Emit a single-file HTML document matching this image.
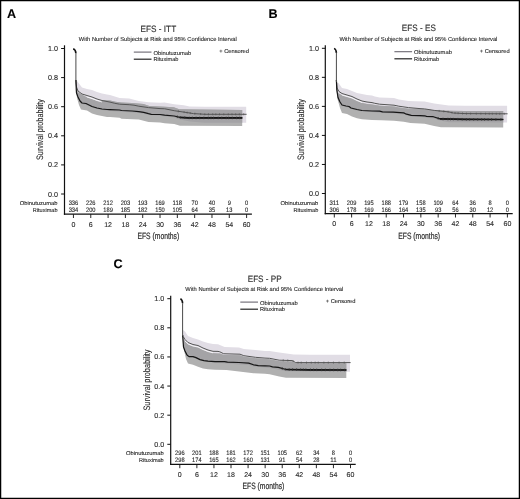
<!DOCTYPE html>
<html><head><meta charset="utf-8"><style>
html,body{margin:0;padding:0;background:#fff;}
body{width:520px;height:499px;overflow:hidden;}
svg{display:block;font-family:"Liberation Sans", sans-serif;}
text{-webkit-font-smoothing:antialiased;text-rendering:geometricPrecision;stroke:#2a2a2a;stroke-width:0.12px;}
</style></head><body>
<svg width="520" height="499" viewBox="0 0 520 499" style="will-change:transform">
<rect x="0" y="0" width="520" height="499" fill="#fff"/>
<text x="7.00" y="17.80" font-size="12.6" font-weight="bold" fill="#000">A</text>
<text x="140.55" y="31.80" font-size="9.2" textLength="35.60" lengthAdjust="spacingAndGlyphs" fill="#2a2a2a">EFS - ITT</text>
<text x="78.80" y="40.90" font-size="5.8" textLength="158.00" lengthAdjust="spacingAndGlyphs" fill="#2a2a2a">With Number of Subjects at Risk and 95% Confidence Interval</text>
<line x1="133.80" y1="52.10" x2="151.50" y2="52.10" stroke="#6a6670" stroke-width="1.1"/>
<line x1="133.80" y1="59.20" x2="151.50" y2="59.20" stroke="#222" stroke-width="1.2"/>
<text x="153.50" y="54.60" font-size="5.7" textLength="37.80" lengthAdjust="spacingAndGlyphs" fill="#2a2a2a">Obinutuzumab</text>
<text x="153.50" y="61.30" font-size="5.7" textLength="25.00" lengthAdjust="spacingAndGlyphs" fill="#2a2a2a">Rituximab</text>
<text x="219.20" y="53.30" font-size="5.7" textLength="29.80" lengthAdjust="spacingAndGlyphs" fill="#2a2a2a">+ Censored</text>
<clipPath id="clipA"><path d="M76.30,86.00 L78.00,92.20 L82.00,94.80 L87.00,97.60 L92.00,99.20 L97.00,101.00 L100.00,101.80 L104.00,100.20 L110.00,100.60 L115.50,101.80 L121.30,102.50 L132.00,102.90 L143.50,104.10 L149.30,106.00 L160.00,106.50 L173.80,107.20 L179.20,109.20 L200.00,109.60 L242.20,109.90 L242.20,125.90 L180.00,125.80 L174.20,124.10 L164.60,123.20 L160.00,122.50 L148.50,122.00 L138.80,119.60 L121.50,118.70 L119.60,117.70 L110.00,116.90 L107.00,117.00 L102.00,116.00 L97.00,115.00 L92.00,113.50 L87.00,110.50 L81.00,109.50 L79.00,105.00 L77.00,98.00 L76.30,92.00Z"/></clipPath>
<path d="M76.30,79.50 L77.00,81.00 L82.00,87.50 L87.00,89.00 L92.00,90.00 L97.00,92.00 L102.00,93.50 L107.00,94.50 L110.00,95.10 L114.80,96.50 L119.60,98.00 L129.20,98.50 L138.80,100.90 L148.50,102.30 L160.00,102.80 L164.60,102.50 L174.20,104.20 L183.80,105.20 L189.60,106.40 L205.00,106.70 L246.20,106.70 L246.20,122.80 L205.00,122.80 L190.00,121.50 L180.00,119.50 L174.20,117.50 L160.00,115.80 L148.50,114.80 L138.80,112.90 L121.50,111.80 L110.00,111.00 L102.00,110.00 L97.00,109.00 L92.00,107.50 L88.00,105.50 L82.00,104.00 L80.00,102.00 L78.00,98.00 L76.30,92.00Z" fill="#e1dde5"/>
<path d="M76.30,86.00 L78.00,92.20 L82.00,94.80 L87.00,97.60 L92.00,99.20 L97.00,101.00 L100.00,101.80 L104.00,100.20 L110.00,100.60 L115.50,101.80 L121.30,102.50 L132.00,102.90 L143.50,104.10 L149.30,106.00 L160.00,106.50 L173.80,107.20 L179.20,109.20 L200.00,109.60 L242.20,109.90 L242.20,125.90 L180.00,125.80 L174.20,124.10 L164.60,123.20 L160.00,122.50 L148.50,122.00 L138.80,119.60 L121.50,118.70 L119.60,117.70 L110.00,116.90 L107.00,117.00 L102.00,116.00 L97.00,115.00 L92.00,113.50 L87.00,110.50 L81.00,109.50 L79.00,105.00 L77.00,98.00 L76.30,92.00Z" fill="#b0b0b0"/>
<path d="M76.30,79.50 L77.00,81.00 L82.00,87.50 L87.00,89.00 L92.00,90.00 L97.00,92.00 L102.00,93.50 L107.00,94.50 L110.00,95.10 L114.80,96.50 L119.60,98.00 L129.20,98.50 L138.80,100.90 L148.50,102.30 L160.00,102.80 L164.60,102.50 L174.20,104.20 L183.80,105.20 L189.60,106.40 L205.00,106.70 L246.20,106.70 L246.20,122.80 L205.00,122.80 L190.00,121.50 L180.00,119.50 L174.20,117.50 L160.00,115.80 L148.50,114.80 L138.80,112.90 L121.50,111.80 L110.00,111.00 L102.00,110.00 L97.00,109.00 L92.00,107.50 L88.00,105.50 L82.00,104.00 L80.00,102.00 L78.00,98.00 L76.30,92.00Z" fill="#a4a3a6" clip-path="url(#clipA)"/>
<path d="M87.00,97.00 L92.00,98.50 L97.00,100.50 L102.00,102.00" fill="none" stroke="#fbfafc" stroke-opacity="0.85" stroke-width="0.9" stroke-linejoin="round"/>
<path d="M75.90,80.00 L76.20,84.00 L76.50,87.00 L78.00,91.00 L82.00,94.00 L87.00,95.50 L92.00,97.00 L97.00,99.00 L102.00,100.50 L107.00,101.50 L110.00,102.10 L114.80,103.30 L119.60,104.20 L129.20,104.70 L134.00,105.20 L138.80,106.20 L148.50,107.60 L160.00,108.60 L164.60,108.75 L174.20,110.70 L183.80,112.10 L193.50,113.60 L205.00,114.30 L246.60,114.30" fill="none" stroke="#555" stroke-width="1.0" stroke-linejoin="round"/>
<path d="M75.90,80.00 L76.30,90.00 L76.50,93.00 L78.00,97.00 L80.00,101.00 L82.00,103.00 L86.00,103.50 L88.00,104.50 L92.00,106.50 L97.00,108.00 L102.00,109.00 L107.00,109.50 L110.00,109.60 L119.60,110.00 L121.50,110.50 L132.10,111.00 L138.80,111.70 L143.70,112.40 L148.50,113.70 L151.30,114.30 L160.00,114.50 L164.60,115.20 L174.20,116.00 L180.00,117.40 L188.70,117.90 L205.00,117.90 L242.30,117.90" fill="none" stroke="#151515" stroke-width="1.2" stroke-linejoin="round"/>
<path d="M73.20,48.70 Q75.70,49.70 75.90,53.20" fill="none" stroke="#111" stroke-width="1.6"/>
<line x1="75.90" y1="53.20" x2="75.90" y2="82.00" stroke="#4a4a4a" stroke-width="1.0"/>
<path d="M180.00,117.40 L188.70,117.90 L205.00,117.90 L242.30,117.90" fill="none" stroke="#151515" stroke-width="1.7" stroke-linejoin="round"/>
<line x1="177.34" y1="115.46" x2="177.34" y2="118.06" stroke="#333" stroke-width="0.8"/>
<line x1="180.18" y1="116.11" x2="180.18" y2="118.71" stroke="#333" stroke-width="0.8"/>
<line x1="184.79" y1="116.38" x2="184.79" y2="118.98" stroke="#333" stroke-width="0.8"/>
<line x1="189.20" y1="116.60" x2="189.20" y2="119.20" stroke="#333" stroke-width="0.8"/>
<line x1="192.34" y1="116.60" x2="192.34" y2="119.20" stroke="#333" stroke-width="0.8"/>
<line x1="196.08" y1="116.60" x2="196.08" y2="119.20" stroke="#333" stroke-width="0.8"/>
<line x1="199.70" y1="116.60" x2="199.70" y2="119.20" stroke="#333" stroke-width="0.8"/>
<line x1="203.83" y1="116.60" x2="203.83" y2="119.20" stroke="#333" stroke-width="0.8"/>
<line x1="208.30" y1="116.60" x2="208.30" y2="119.20" stroke="#333" stroke-width="0.8"/>
<line x1="211.04" y1="116.60" x2="211.04" y2="119.20" stroke="#333" stroke-width="0.8"/>
<line x1="213.61" y1="116.60" x2="213.61" y2="119.20" stroke="#333" stroke-width="0.8"/>
<line x1="218.20" y1="116.60" x2="218.20" y2="119.20" stroke="#333" stroke-width="0.8"/>
<line x1="221.78" y1="116.60" x2="221.78" y2="119.20" stroke="#333" stroke-width="0.8"/>
<line x1="226.19" y1="116.60" x2="226.19" y2="119.20" stroke="#333" stroke-width="0.8"/>
<line x1="228.69" y1="116.60" x2="228.69" y2="119.20" stroke="#333" stroke-width="0.8"/>
<line x1="232.31" y1="116.60" x2="232.31" y2="119.20" stroke="#333" stroke-width="0.8"/>
<line x1="236.61" y1="116.60" x2="236.61" y2="119.20" stroke="#333" stroke-width="0.8"/>
<line x1="239.68" y1="116.60" x2="239.68" y2="119.20" stroke="#333" stroke-width="0.8"/>
<line x1="178.34" y1="110.30" x2="178.34" y2="112.30" stroke="#555" stroke-width="0.7"/>
<line x1="184.04" y1="111.14" x2="184.04" y2="113.14" stroke="#555" stroke-width="0.7"/>
<line x1="187.14" y1="111.62" x2="187.14" y2="113.62" stroke="#555" stroke-width="0.7"/>
<line x1="190.21" y1="112.09" x2="190.21" y2="114.09" stroke="#555" stroke-width="0.7"/>
<line x1="194.84" y1="112.68" x2="194.84" y2="114.68" stroke="#555" stroke-width="0.7"/>
<line x1="200.65" y1="113.04" x2="200.65" y2="115.04" stroke="#555" stroke-width="0.7"/>
<line x1="204.80" y1="113.29" x2="204.80" y2="115.29" stroke="#555" stroke-width="0.7"/>
<line x1="208.45" y1="113.30" x2="208.45" y2="115.30" stroke="#555" stroke-width="0.7"/>
<line x1="212.71" y1="113.30" x2="212.71" y2="115.30" stroke="#555" stroke-width="0.7"/>
<line x1="215.80" y1="113.30" x2="215.80" y2="115.30" stroke="#555" stroke-width="0.7"/>
<line x1="219.47" y1="113.30" x2="219.47" y2="115.30" stroke="#555" stroke-width="0.7"/>
<line x1="223.78" y1="113.30" x2="223.78" y2="115.30" stroke="#555" stroke-width="0.7"/>
<line x1="228.27" y1="113.30" x2="228.27" y2="115.30" stroke="#555" stroke-width="0.7"/>
<line x1="231.97" y1="113.30" x2="231.97" y2="115.30" stroke="#555" stroke-width="0.7"/>
<line x1="235.66" y1="113.30" x2="235.66" y2="115.30" stroke="#555" stroke-width="0.7"/>
<line x1="239.32" y1="113.30" x2="239.32" y2="115.30" stroke="#555" stroke-width="0.7"/>
<line x1="243.69" y1="113.30" x2="243.69" y2="115.30" stroke="#555" stroke-width="0.7"/>
<line x1="64.5" y1="45.3" x2="64.5" y2="214.79999999999998" stroke="#111" stroke-width="1.2"/>
<line x1="63.9" y1="214.2" x2="251.9" y2="214.2" stroke="#111" stroke-width="1.2"/>
<line x1="61.10" y1="48.50" x2="64.5" y2="48.50" stroke="#111" stroke-width="1"/>
<text x="58.10" y="51.05" font-size="7.2" text-anchor="end" fill="#2a2a2a">1.0</text>
<line x1="61.10" y1="77.60" x2="64.5" y2="77.60" stroke="#111" stroke-width="1"/>
<text x="58.10" y="80.15" font-size="7.2" text-anchor="end" fill="#2a2a2a">0.8</text>
<line x1="61.10" y1="106.70" x2="64.5" y2="106.70" stroke="#111" stroke-width="1"/>
<text x="58.10" y="109.25" font-size="7.2" text-anchor="end" fill="#2a2a2a">0.6</text>
<line x1="61.10" y1="135.80" x2="64.5" y2="135.80" stroke="#111" stroke-width="1"/>
<text x="58.10" y="138.35" font-size="7.2" text-anchor="end" fill="#2a2a2a">0.4</text>
<line x1="61.10" y1="164.90" x2="64.5" y2="164.90" stroke="#111" stroke-width="1"/>
<text x="58.10" y="167.45" font-size="7.2" text-anchor="end" fill="#2a2a2a">0.2</text>
<line x1="61.10" y1="194.00" x2="64.5" y2="194.00" stroke="#111" stroke-width="1"/>
<text x="58.10" y="196.55" font-size="7.2" text-anchor="end" fill="#2a2a2a">0.0</text>
<line x1="73.45" y1="214.2" x2="73.45" y2="218.00" stroke="#111" stroke-width="0.9"/>
<text x="73.45" y="226.70" font-size="7.0" text-anchor="middle" fill="#2a2a2a">0</text>
<line x1="90.77" y1="214.2" x2="90.77" y2="218.00" stroke="#111" stroke-width="0.9"/>
<text x="90.77" y="226.70" font-size="7.0" text-anchor="middle" fill="#2a2a2a">6</text>
<line x1="108.08" y1="214.2" x2="108.08" y2="218.00" stroke="#111" stroke-width="0.9"/>
<text x="108.08" y="226.70" font-size="7.0" text-anchor="middle" fill="#2a2a2a">12</text>
<line x1="125.40" y1="214.2" x2="125.40" y2="218.00" stroke="#111" stroke-width="0.9"/>
<text x="125.40" y="226.70" font-size="7.0" text-anchor="middle" fill="#2a2a2a">18</text>
<line x1="142.71" y1="214.2" x2="142.71" y2="218.00" stroke="#111" stroke-width="0.9"/>
<text x="142.71" y="226.70" font-size="7.0" text-anchor="middle" fill="#2a2a2a">24</text>
<line x1="160.03" y1="214.2" x2="160.03" y2="218.00" stroke="#111" stroke-width="0.9"/>
<text x="160.03" y="226.70" font-size="7.0" text-anchor="middle" fill="#2a2a2a">30</text>
<line x1="177.34" y1="214.2" x2="177.34" y2="218.00" stroke="#111" stroke-width="0.9"/>
<text x="177.34" y="226.70" font-size="7.0" text-anchor="middle" fill="#2a2a2a">36</text>
<line x1="194.66" y1="214.2" x2="194.66" y2="218.00" stroke="#111" stroke-width="0.9"/>
<text x="194.66" y="226.70" font-size="7.0" text-anchor="middle" fill="#2a2a2a">42</text>
<line x1="211.97" y1="214.2" x2="211.97" y2="218.00" stroke="#111" stroke-width="0.9"/>
<text x="211.97" y="226.70" font-size="7.0" text-anchor="middle" fill="#2a2a2a">48</text>
<line x1="229.29" y1="214.2" x2="229.29" y2="218.00" stroke="#111" stroke-width="0.9"/>
<text x="229.29" y="226.70" font-size="7.0" text-anchor="middle" fill="#2a2a2a">54</text>
<line x1="246.60" y1="214.2" x2="246.60" y2="218.00" stroke="#111" stroke-width="0.9"/>
<text x="246.60" y="226.70" font-size="7.0" text-anchor="middle" fill="#2a2a2a">60</text>
<text x="137.43" y="239.00" font-size="9.2" textLength="41.80" lengthAdjust="spacingAndGlyphs" fill="#2a2a2a" style="stroke-width:0.2px">EFS (months)</text>
<text x="-30.5" y="0" font-size="9.4" textLength="61" lengthAdjust="spacingAndGlyphs" fill="#2a2a2a" style="stroke-width:0.1px" transform="translate(43.30,129.50) rotate(-90)">Survival probability</text>
<text x="19.80" y="204.90" font-size="5.6" textLength="37.70" lengthAdjust="spacingAndGlyphs" fill="#2a2a2a">Obinutuzumab</text>
<text x="32.80" y="211.60" font-size="5.6" textLength="24.70" lengthAdjust="spacingAndGlyphs" fill="#2a2a2a">Rituximab</text>
<text x="68.70" y="204.90" font-size="6.4" textLength="9.51" lengthAdjust="spacingAndGlyphs" fill="#2a2a2a">336</text>
<text x="68.70" y="211.60" font-size="6.4" textLength="9.51" lengthAdjust="spacingAndGlyphs" fill="#2a2a2a">334</text>
<text x="86.01" y="204.90" font-size="6.4" textLength="9.51" lengthAdjust="spacingAndGlyphs" fill="#2a2a2a">226</text>
<text x="86.01" y="211.60" font-size="6.4" textLength="9.51" lengthAdjust="spacingAndGlyphs" fill="#2a2a2a">200</text>
<text x="103.33" y="204.90" font-size="6.4" textLength="9.51" lengthAdjust="spacingAndGlyphs" fill="#2a2a2a">212</text>
<text x="103.33" y="211.60" font-size="6.4" textLength="9.51" lengthAdjust="spacingAndGlyphs" fill="#2a2a2a">189</text>
<text x="120.64" y="204.90" font-size="6.4" textLength="9.51" lengthAdjust="spacingAndGlyphs" fill="#2a2a2a">203</text>
<text x="120.64" y="211.60" font-size="6.4" textLength="9.51" lengthAdjust="spacingAndGlyphs" fill="#2a2a2a">185</text>
<text x="137.96" y="204.90" font-size="6.4" textLength="9.51" lengthAdjust="spacingAndGlyphs" fill="#2a2a2a">193</text>
<text x="137.96" y="211.60" font-size="6.4" textLength="9.51" lengthAdjust="spacingAndGlyphs" fill="#2a2a2a">182</text>
<text x="155.27" y="204.90" font-size="6.4" textLength="9.51" lengthAdjust="spacingAndGlyphs" fill="#2a2a2a">169</text>
<text x="155.27" y="211.60" font-size="6.4" textLength="9.51" lengthAdjust="spacingAndGlyphs" fill="#2a2a2a">150</text>
<text x="172.59" y="204.90" font-size="6.4" textLength="9.51" lengthAdjust="spacingAndGlyphs" fill="#2a2a2a">118</text>
<text x="172.59" y="211.60" font-size="6.4" textLength="9.51" lengthAdjust="spacingAndGlyphs" fill="#2a2a2a">105</text>
<text x="191.49" y="204.90" font-size="6.4" textLength="6.34" lengthAdjust="spacingAndGlyphs" fill="#2a2a2a">70</text>
<text x="191.49" y="211.60" font-size="6.4" textLength="6.34" lengthAdjust="spacingAndGlyphs" fill="#2a2a2a">64</text>
<text x="208.80" y="204.90" font-size="6.4" textLength="6.34" lengthAdjust="spacingAndGlyphs" fill="#2a2a2a">40</text>
<text x="208.80" y="211.60" font-size="6.4" textLength="6.34" lengthAdjust="spacingAndGlyphs" fill="#2a2a2a">35</text>
<text x="227.70" y="204.90" font-size="6.4" textLength="3.17" lengthAdjust="spacingAndGlyphs" fill="#2a2a2a">9</text>
<text x="226.12" y="211.60" font-size="6.4" textLength="6.34" lengthAdjust="spacingAndGlyphs" fill="#2a2a2a">13</text>
<text x="245.02" y="204.90" font-size="6.4" textLength="3.17" lengthAdjust="spacingAndGlyphs" fill="#2a2a2a">0</text>
<text x="245.02" y="211.60" font-size="6.4" textLength="3.17" lengthAdjust="spacingAndGlyphs" fill="#2a2a2a">0</text>
<text x="268.60" y="17.80" font-size="12.6" font-weight="bold" fill="#000">B</text>
<text x="401.85" y="31.40" font-size="9.2" textLength="34.00" lengthAdjust="spacingAndGlyphs" fill="#2a2a2a">EFS - ES</text>
<text x="339.40" y="40.50" font-size="5.8" textLength="158.00" lengthAdjust="spacingAndGlyphs" fill="#2a2a2a">With Number of Subjects at Risk and 95% Confidence Interval</text>
<line x1="394.40" y1="51.70" x2="412.10" y2="51.70" stroke="#6a6670" stroke-width="1.1"/>
<line x1="394.40" y1="58.80" x2="412.10" y2="58.80" stroke="#222" stroke-width="1.2"/>
<text x="414.10" y="54.20" font-size="5.7" textLength="37.80" lengthAdjust="spacingAndGlyphs" fill="#2a2a2a">Obinutuzumab</text>
<text x="414.10" y="60.90" font-size="5.7" textLength="25.00" lengthAdjust="spacingAndGlyphs" fill="#2a2a2a">Rituximab</text>
<text x="479.80" y="52.90" font-size="5.7" textLength="29.80" lengthAdjust="spacingAndGlyphs" fill="#2a2a2a">+ Censored</text>
<clipPath id="clipB"><path d="M336.80,84.00 L338.00,93.00 L342.00,95.50 L347.00,97.00 L352.00,98.50 L357.00,101.00 L362.00,103.00 L367.00,104.00 L372.00,104.60 L379.60,105.80 L394.00,106.60 L398.80,107.40 L408.50,108.80 L415.00,108.75 L424.60,109.30 L434.20,110.20 L448.70,110.70 L465.00,110.90 L503.20,110.90 L503.20,127.60 L441.00,127.30 L434.20,126.10 L424.60,123.70 L420.00,123.50 L410.40,123.00 L403.70,121.70 L394.00,120.80 L381.50,120.20 L372.00,120.00 L362.00,119.20 L357.00,118.20 L352.00,116.50 L347.00,114.00 L342.00,113.00 L340.00,108.00 L337.50,99.00 L336.80,92.00Z"/></clipPath>
<path d="M336.80,83.00 L338.50,83.00 L342.00,88.00 L347.00,89.00 L352.00,91.00 L357.00,93.00 L362.00,94.00 L367.00,95.00 L372.00,95.50 L374.80,96.50 L379.60,97.50 L394.00,98.00 L398.80,99.40 L408.50,100.90 L415.00,101.30 L424.60,101.50 L434.20,103.50 L448.70,105.40 L465.00,105.80 L507.10,105.80 L507.10,122.50 L448.70,122.30 L440.00,120.50 L434.20,118.50 L420.00,117.00 L411.30,116.50 L403.70,114.50 L394.00,113.50 L382.50,113.00 L372.00,112.00 L362.00,111.50 L357.00,110.50 L352.00,109.50 L348.00,107.50 L342.00,106.00 L340.00,103.00 L338.00,99.00 L336.80,92.00Z" fill="#e1dde5"/>
<path d="M336.80,84.00 L338.00,93.00 L342.00,95.50 L347.00,97.00 L352.00,98.50 L357.00,101.00 L362.00,103.00 L367.00,104.00 L372.00,104.60 L379.60,105.80 L394.00,106.60 L398.80,107.40 L408.50,108.80 L415.00,108.75 L424.60,109.30 L434.20,110.20 L448.70,110.70 L465.00,110.90 L503.20,110.90 L503.20,127.60 L441.00,127.30 L434.20,126.10 L424.60,123.70 L420.00,123.50 L410.40,123.00 L403.70,121.70 L394.00,120.80 L381.50,120.20 L372.00,120.00 L362.00,119.20 L357.00,118.20 L352.00,116.50 L347.00,114.00 L342.00,113.00 L340.00,108.00 L337.50,99.00 L336.80,92.00Z" fill="#b0b0b0"/>
<path d="M336.80,83.00 L338.50,83.00 L342.00,88.00 L347.00,89.00 L352.00,91.00 L357.00,93.00 L362.00,94.00 L367.00,95.00 L372.00,95.50 L374.80,96.50 L379.60,97.50 L394.00,98.00 L398.80,99.40 L408.50,100.90 L415.00,101.30 L424.60,101.50 L434.20,103.50 L448.70,105.40 L465.00,105.80 L507.10,105.80 L507.10,122.50 L448.70,122.30 L440.00,120.50 L434.20,118.50 L420.00,117.00 L411.30,116.50 L403.70,114.50 L394.00,113.50 L382.50,113.00 L372.00,112.00 L362.00,111.50 L357.00,110.50 L352.00,109.50 L348.00,107.50 L342.00,106.00 L340.00,103.00 L338.00,99.00 L336.80,92.00Z" fill="#a4a3a6" clip-path="url(#clipB)"/>
<path d="M342.00,95.00 L347.00,96.50 L352.00,98.00 L357.00,100.50 L362.00,102.50" fill="none" stroke="#fbfafc" stroke-opacity="0.85" stroke-width="0.9" stroke-linejoin="round"/>
<path d="M336.40,80.00 L336.80,85.00 L337.00,88.00 L339.00,91.50 L342.00,93.50 L347.00,95.00 L352.00,96.50 L357.00,99.00 L362.00,101.00 L367.00,102.00 L372.00,102.60 L374.80,103.30 L379.60,104.20 L394.00,105.20 L398.80,106.20 L408.50,107.60 L420.00,108.60 L424.60,108.90 L434.20,110.40 L448.70,111.90 L453.50,113.00 L465.00,113.60 L507.60,113.80" fill="none" stroke="#555" stroke-width="1.0" stroke-linejoin="round"/>
<path d="M336.40,80.00 L336.80,90.00 L338.00,97.50 L340.00,102.00 L342.00,105.00 L346.00,106.00 L349.00,106.50 L351.00,108.00 L357.00,109.50 L362.00,110.50 L372.00,111.00 L379.60,111.20 L382.50,111.90 L393.10,112.20 L403.70,112.90 L405.60,113.80 L411.30,115.30 L420.00,115.60 L424.60,115.80 L426.50,116.40 L433.30,116.70 L440.00,118.90 L465.00,119.30 L503.30,119.50" fill="none" stroke="#151515" stroke-width="1.2" stroke-linejoin="round"/>
<path d="M334.10,48.40 Q336.20,49.40 336.40,52.90" fill="none" stroke="#111" stroke-width="1.6"/>
<line x1="336.40" y1="52.90" x2="336.40" y2="82.00" stroke="#4a4a4a" stroke-width="1.0"/>
<path d="M440.00,118.90 L465.00,119.30 L503.30,119.50" fill="none" stroke="#151515" stroke-width="1.7" stroke-linejoin="round"/>
<line x1="438.16" y1="117.00" x2="438.16" y2="119.60" stroke="#333" stroke-width="0.8"/>
<line x1="443.05" y1="117.65" x2="443.05" y2="120.25" stroke="#333" stroke-width="0.8"/>
<line x1="447.92" y1="117.73" x2="447.92" y2="120.33" stroke="#333" stroke-width="0.8"/>
<line x1="450.56" y1="117.77" x2="450.56" y2="120.37" stroke="#333" stroke-width="0.8"/>
<line x1="453.27" y1="117.81" x2="453.27" y2="120.41" stroke="#333" stroke-width="0.8"/>
<line x1="457.86" y1="117.89" x2="457.86" y2="120.49" stroke="#333" stroke-width="0.8"/>
<line x1="462.20" y1="117.96" x2="462.20" y2="120.56" stroke="#333" stroke-width="0.8"/>
<line x1="466.38" y1="118.01" x2="466.38" y2="120.61" stroke="#333" stroke-width="0.8"/>
<line x1="469.65" y1="118.02" x2="469.65" y2="120.62" stroke="#333" stroke-width="0.8"/>
<line x1="473.66" y1="118.05" x2="473.66" y2="120.65" stroke="#333" stroke-width="0.8"/>
<line x1="477.68" y1="118.07" x2="477.68" y2="120.67" stroke="#333" stroke-width="0.8"/>
<line x1="481.63" y1="118.09" x2="481.63" y2="120.69" stroke="#333" stroke-width="0.8"/>
<line x1="484.53" y1="118.10" x2="484.53" y2="120.70" stroke="#333" stroke-width="0.8"/>
<line x1="488.10" y1="118.12" x2="488.10" y2="120.72" stroke="#333" stroke-width="0.8"/>
<line x1="491.59" y1="118.14" x2="491.59" y2="120.74" stroke="#333" stroke-width="0.8"/>
<line x1="495.90" y1="118.16" x2="495.90" y2="120.76" stroke="#333" stroke-width="0.8"/>
<line x1="500.88" y1="118.19" x2="500.88" y2="120.79" stroke="#333" stroke-width="0.8"/>
<line x1="439.16" y1="109.91" x2="439.16" y2="111.91" stroke="#555" stroke-width="0.7"/>
<line x1="443.79" y1="110.39" x2="443.79" y2="112.39" stroke="#555" stroke-width="0.7"/>
<line x1="448.13" y1="110.84" x2="448.13" y2="112.84" stroke="#555" stroke-width="0.7"/>
<line x1="451.93" y1="111.64" x2="451.93" y2="113.64" stroke="#555" stroke-width="0.7"/>
<line x1="455.04" y1="112.08" x2="455.04" y2="114.08" stroke="#555" stroke-width="0.7"/>
<line x1="458.12" y1="112.24" x2="458.12" y2="114.24" stroke="#555" stroke-width="0.7"/>
<line x1="462.52" y1="112.47" x2="462.52" y2="114.47" stroke="#555" stroke-width="0.7"/>
<line x1="466.47" y1="112.61" x2="466.47" y2="114.61" stroke="#555" stroke-width="0.7"/>
<line x1="470.61" y1="112.63" x2="470.61" y2="114.63" stroke="#555" stroke-width="0.7"/>
<line x1="476.29" y1="112.65" x2="476.29" y2="114.65" stroke="#555" stroke-width="0.7"/>
<line x1="480.86" y1="112.67" x2="480.86" y2="114.67" stroke="#555" stroke-width="0.7"/>
<line x1="485.55" y1="112.70" x2="485.55" y2="114.70" stroke="#555" stroke-width="0.7"/>
<line x1="489.25" y1="112.71" x2="489.25" y2="114.71" stroke="#555" stroke-width="0.7"/>
<line x1="492.33" y1="112.73" x2="492.33" y2="114.73" stroke="#555" stroke-width="0.7"/>
<line x1="496.30" y1="112.75" x2="496.30" y2="114.75" stroke="#555" stroke-width="0.7"/>
<line x1="499.71" y1="112.76" x2="499.71" y2="114.76" stroke="#555" stroke-width="0.7"/>
<line x1="504.24" y1="112.78" x2="504.24" y2="114.78" stroke="#555" stroke-width="0.7"/>
<line x1="325.3" y1="45.3" x2="325.3" y2="214.29999999999998" stroke="#111" stroke-width="1.2"/>
<line x1="324.7" y1="213.7" x2="512.7" y2="213.7" stroke="#111" stroke-width="1.2"/>
<line x1="321.90" y1="48.30" x2="325.3" y2="48.30" stroke="#111" stroke-width="1"/>
<text x="318.90" y="50.85" font-size="7.2" text-anchor="end" fill="#2a2a2a">1.0</text>
<line x1="321.90" y1="77.34" x2="325.3" y2="77.34" stroke="#111" stroke-width="1"/>
<text x="318.90" y="79.89" font-size="7.2" text-anchor="end" fill="#2a2a2a">0.8</text>
<line x1="321.90" y1="106.38" x2="325.3" y2="106.38" stroke="#111" stroke-width="1"/>
<text x="318.90" y="108.93" font-size="7.2" text-anchor="end" fill="#2a2a2a">0.6</text>
<line x1="321.90" y1="135.42" x2="325.3" y2="135.42" stroke="#111" stroke-width="1"/>
<text x="318.90" y="137.97" font-size="7.2" text-anchor="end" fill="#2a2a2a">0.4</text>
<line x1="321.90" y1="164.46" x2="325.3" y2="164.46" stroke="#111" stroke-width="1"/>
<text x="318.90" y="167.01" font-size="7.2" text-anchor="end" fill="#2a2a2a">0.2</text>
<line x1="321.90" y1="193.50" x2="325.3" y2="193.50" stroke="#111" stroke-width="1"/>
<text x="318.90" y="196.05" font-size="7.2" text-anchor="end" fill="#2a2a2a">0.0</text>
<line x1="334.30" y1="213.7" x2="334.30" y2="217.50" stroke="#111" stroke-width="0.9"/>
<text x="334.30" y="226.20" font-size="7.0" text-anchor="middle" fill="#2a2a2a">0</text>
<line x1="351.61" y1="213.7" x2="351.61" y2="217.50" stroke="#111" stroke-width="0.9"/>
<text x="351.61" y="226.20" font-size="7.0" text-anchor="middle" fill="#2a2a2a">6</text>
<line x1="368.92" y1="213.7" x2="368.92" y2="217.50" stroke="#111" stroke-width="0.9"/>
<text x="368.92" y="226.20" font-size="7.0" text-anchor="middle" fill="#2a2a2a">12</text>
<line x1="386.23" y1="213.7" x2="386.23" y2="217.50" stroke="#111" stroke-width="0.9"/>
<text x="386.23" y="226.20" font-size="7.0" text-anchor="middle" fill="#2a2a2a">18</text>
<line x1="403.54" y1="213.7" x2="403.54" y2="217.50" stroke="#111" stroke-width="0.9"/>
<text x="403.54" y="226.20" font-size="7.0" text-anchor="middle" fill="#2a2a2a">24</text>
<line x1="420.85" y1="213.7" x2="420.85" y2="217.50" stroke="#111" stroke-width="0.9"/>
<text x="420.85" y="226.20" font-size="7.0" text-anchor="middle" fill="#2a2a2a">30</text>
<line x1="438.16" y1="213.7" x2="438.16" y2="217.50" stroke="#111" stroke-width="0.9"/>
<text x="438.16" y="226.20" font-size="7.0" text-anchor="middle" fill="#2a2a2a">36</text>
<line x1="455.47" y1="213.7" x2="455.47" y2="217.50" stroke="#111" stroke-width="0.9"/>
<text x="455.47" y="226.20" font-size="7.0" text-anchor="middle" fill="#2a2a2a">42</text>
<line x1="472.78" y1="213.7" x2="472.78" y2="217.50" stroke="#111" stroke-width="0.9"/>
<text x="472.78" y="226.20" font-size="7.0" text-anchor="middle" fill="#2a2a2a">48</text>
<line x1="490.09" y1="213.7" x2="490.09" y2="217.50" stroke="#111" stroke-width="0.9"/>
<text x="490.09" y="226.20" font-size="7.0" text-anchor="middle" fill="#2a2a2a">54</text>
<line x1="507.40" y1="213.7" x2="507.40" y2="217.50" stroke="#111" stroke-width="0.9"/>
<text x="507.40" y="226.20" font-size="7.0" text-anchor="middle" fill="#2a2a2a">60</text>
<text x="398.25" y="238.50" font-size="9.2" textLength="41.80" lengthAdjust="spacingAndGlyphs" fill="#2a2a2a" style="stroke-width:0.2px">EFS (months)</text>
<text x="-30.5" y="0" font-size="9.4" textLength="61" lengthAdjust="spacingAndGlyphs" fill="#2a2a2a" style="stroke-width:0.1px" transform="translate(304.10,129.50) rotate(-90)">Survival probability</text>
<text x="280.60" y="204.60" font-size="5.6" textLength="37.70" lengthAdjust="spacingAndGlyphs" fill="#2a2a2a">Obinutuzumab</text>
<text x="293.60" y="211.50" font-size="5.6" textLength="24.70" lengthAdjust="spacingAndGlyphs" fill="#2a2a2a">Rituximab</text>
<text x="329.55" y="204.60" font-size="6.4" textLength="9.51" lengthAdjust="spacingAndGlyphs" fill="#2a2a2a">311</text>
<text x="329.55" y="211.50" font-size="6.4" textLength="9.51" lengthAdjust="spacingAndGlyphs" fill="#2a2a2a">306</text>
<text x="346.86" y="204.60" font-size="6.4" textLength="9.51" lengthAdjust="spacingAndGlyphs" fill="#2a2a2a">209</text>
<text x="346.86" y="211.50" font-size="6.4" textLength="9.51" lengthAdjust="spacingAndGlyphs" fill="#2a2a2a">178</text>
<text x="364.17" y="204.60" font-size="6.4" textLength="9.51" lengthAdjust="spacingAndGlyphs" fill="#2a2a2a">195</text>
<text x="364.17" y="211.50" font-size="6.4" textLength="9.51" lengthAdjust="spacingAndGlyphs" fill="#2a2a2a">169</text>
<text x="381.48" y="204.60" font-size="6.4" textLength="9.51" lengthAdjust="spacingAndGlyphs" fill="#2a2a2a">188</text>
<text x="381.48" y="211.50" font-size="6.4" textLength="9.51" lengthAdjust="spacingAndGlyphs" fill="#2a2a2a">166</text>
<text x="398.79" y="204.60" font-size="6.4" textLength="9.51" lengthAdjust="spacingAndGlyphs" fill="#2a2a2a">179</text>
<text x="398.79" y="211.50" font-size="6.4" textLength="9.51" lengthAdjust="spacingAndGlyphs" fill="#2a2a2a">164</text>
<text x="416.10" y="204.60" font-size="6.4" textLength="9.51" lengthAdjust="spacingAndGlyphs" fill="#2a2a2a">158</text>
<text x="416.10" y="211.50" font-size="6.4" textLength="9.51" lengthAdjust="spacingAndGlyphs" fill="#2a2a2a">135</text>
<text x="433.40" y="204.60" font-size="6.4" textLength="9.51" lengthAdjust="spacingAndGlyphs" fill="#2a2a2a">109</text>
<text x="434.99" y="211.50" font-size="6.4" textLength="6.34" lengthAdjust="spacingAndGlyphs" fill="#2a2a2a">93</text>
<text x="452.30" y="204.60" font-size="6.4" textLength="6.34" lengthAdjust="spacingAndGlyphs" fill="#2a2a2a">64</text>
<text x="452.30" y="211.50" font-size="6.4" textLength="6.34" lengthAdjust="spacingAndGlyphs" fill="#2a2a2a">56</text>
<text x="469.61" y="204.60" font-size="6.4" textLength="6.34" lengthAdjust="spacingAndGlyphs" fill="#2a2a2a">36</text>
<text x="469.61" y="211.50" font-size="6.4" textLength="6.34" lengthAdjust="spacingAndGlyphs" fill="#2a2a2a">30</text>
<text x="488.51" y="204.60" font-size="6.4" textLength="3.17" lengthAdjust="spacingAndGlyphs" fill="#2a2a2a">8</text>
<text x="486.92" y="211.50" font-size="6.4" textLength="6.34" lengthAdjust="spacingAndGlyphs" fill="#2a2a2a">12</text>
<text x="505.81" y="204.60" font-size="6.4" textLength="3.17" lengthAdjust="spacingAndGlyphs" fill="#2a2a2a">0</text>
<text x="505.81" y="211.50" font-size="6.4" textLength="3.17" lengthAdjust="spacingAndGlyphs" fill="#2a2a2a">0</text>
<text x="113.50" y="267.90" font-size="12.6" font-weight="bold" fill="#000">C</text>
<text x="247.70" y="281.80" font-size="9.2" textLength="34.00" lengthAdjust="spacingAndGlyphs" fill="#2a2a2a">EFS - PP</text>
<text x="185.30" y="290.90" font-size="5.8" textLength="158.00" lengthAdjust="spacingAndGlyphs" fill="#2a2a2a">With Number of Subjects at Risk and 95% Confidence Interval</text>
<line x1="240.30" y1="302.10" x2="258.00" y2="302.10" stroke="#6a6670" stroke-width="1.1"/>
<line x1="240.30" y1="309.20" x2="258.00" y2="309.20" stroke="#222" stroke-width="1.2"/>
<text x="260.00" y="304.60" font-size="5.7" textLength="37.80" lengthAdjust="spacingAndGlyphs" fill="#2a2a2a">Obinutuzumab</text>
<text x="260.00" y="311.30" font-size="5.7" textLength="25.00" lengthAdjust="spacingAndGlyphs" fill="#2a2a2a">Rituximab</text>
<text x="325.70" y="303.30" font-size="5.7" textLength="29.80" lengthAdjust="spacingAndGlyphs" fill="#2a2a2a">+ Censored</text>
<clipPath id="clipC"><path d="M183.00,336.00 L183.50,339.00 L185.00,341.50 L188.00,344.50 L193.00,346.50 L198.00,347.50 L203.00,350.00 L208.00,352.00 L213.00,353.30 L218.00,353.40 L219.80,353.60 L223.70,355.00 L240.00,355.20 L243.80,356.70 L255.40,358.30 L265.00,359.10 L269.60,359.30 L279.20,361.20 L292.30,361.40 L295.70,363.20 L346.30,363.30 L346.30,377.90 L286.00,377.70 L279.20,376.50 L269.60,374.20 L265.00,373.80 L253.50,373.20 L239.00,371.40 L226.50,370.10 L215.00,369.80 L208.00,369.30 L203.00,368.40 L198.00,366.80 L193.00,364.80 L188.00,363.50 L186.00,359.00 L184.00,350.00 L183.00,342.00Z"/></clipPath>
<path d="M183.00,330.00 L185.00,331.50 L188.00,336.00 L193.00,338.00 L198.00,339.50 L203.00,341.50 L208.00,343.00 L213.00,344.00 L218.00,344.30 L219.80,345.10 L224.60,347.00 L239.00,347.50 L243.80,348.90 L255.40,349.90 L265.00,350.90 L269.60,351.10 L279.20,352.50 L293.70,354.40 L310.00,354.80 L350.00,354.80 L350.00,371.70 L286.00,371.20 L272.50,368.50 L265.00,367.50 L253.50,366.50 L248.70,365.00 L239.00,364.50 L227.50,363.50 L218.00,363.00 L208.00,362.00 L203.00,361.00 L198.00,359.50 L193.00,357.50 L188.00,356.50 L186.00,354.00 L184.00,350.00 L183.00,342.00Z" fill="#e1dde5"/>
<path d="M183.00,336.00 L183.50,339.00 L185.00,341.50 L188.00,344.50 L193.00,346.50 L198.00,347.50 L203.00,350.00 L208.00,352.00 L213.00,353.30 L218.00,353.40 L219.80,353.60 L223.70,355.00 L240.00,355.20 L243.80,356.70 L255.40,358.30 L265.00,359.10 L269.60,359.30 L279.20,361.20 L292.30,361.40 L295.70,363.20 L346.30,363.30 L346.30,377.90 L286.00,377.70 L279.20,376.50 L269.60,374.20 L265.00,373.80 L253.50,373.20 L239.00,371.40 L226.50,370.10 L215.00,369.80 L208.00,369.30 L203.00,368.40 L198.00,366.80 L193.00,364.80 L188.00,363.50 L186.00,359.00 L184.00,350.00 L183.00,342.00Z" fill="#b0b0b0"/>
<path d="M183.00,330.00 L185.00,331.50 L188.00,336.00 L193.00,338.00 L198.00,339.50 L203.00,341.50 L208.00,343.00 L213.00,344.00 L218.00,344.30 L219.80,345.10 L224.60,347.00 L239.00,347.50 L243.80,348.90 L255.40,349.90 L265.00,350.90 L269.60,351.10 L279.20,352.50 L293.70,354.40 L310.00,354.80 L350.00,354.80 L350.00,371.70 L286.00,371.20 L272.50,368.50 L265.00,367.50 L253.50,366.50 L248.70,365.00 L239.00,364.50 L227.50,363.50 L218.00,363.00 L208.00,362.00 L203.00,361.00 L198.00,359.50 L193.00,357.50 L188.00,356.50 L186.00,354.00 L184.00,350.00 L183.00,342.00Z" fill="#a4a3a6" clip-path="url(#clipC)"/>
<path d="M185.00,341.00 L188.00,344.00 L193.00,346.00 L198.00,347.00 L203.00,349.50 L208.00,351.50 L213.00,352.80" fill="none" stroke="#fbfafc" stroke-opacity="0.85" stroke-width="0.9" stroke-linejoin="round"/>
<path d="M182.60,335.00 L183.00,336.50 L183.50,337.00 L185.00,339.50 L188.00,342.50 L193.00,344.50 L198.00,345.50 L203.00,348.00 L208.00,350.00 L213.00,351.30 L218.00,351.40 L219.80,351.80 L223.70,353.75 L240.00,354.20 L243.80,355.70 L255.40,357.30 L265.00,358.10 L269.60,358.30 L279.20,360.20 L292.30,360.60 L295.70,362.60 L350.60,362.60" fill="none" stroke="#555" stroke-width="1.0" stroke-linejoin="round"/>
<path d="M182.60,335.00 L183.20,343.00 L183.50,347.00 L185.00,351.00 L187.00,355.00 L189.00,356.60 L193.00,356.60 L196.00,357.60 L200.00,359.60 L204.00,360.60 L208.00,361.10 L215.00,361.60 L224.60,361.60 L227.50,362.10 L239.00,362.50 L248.70,363.10 L253.50,364.80 L258.30,365.60 L265.00,365.80 L269.60,366.00 L272.50,366.90 L278.30,367.40 L286.00,369.50 L310.00,369.80 L346.40,370.00" fill="none" stroke="#151515" stroke-width="1.2" stroke-linejoin="round"/>
<path d="M180.40,298.70 Q182.40,299.70 182.60,303.20" fill="none" stroke="#111" stroke-width="1.6"/>
<line x1="182.60" y1="303.20" x2="182.60" y2="336.00" stroke="#4a4a4a" stroke-width="1.0"/>
<path d="M286.00,369.50 L310.00,369.80 L346.40,370.00" fill="none" stroke="#151515" stroke-width="1.7" stroke-linejoin="round"/>
<line x1="282.22" y1="367.17" x2="282.22" y2="369.77" stroke="#333" stroke-width="0.8"/>
<line x1="285.31" y1="368.01" x2="285.31" y2="370.61" stroke="#333" stroke-width="0.8"/>
<line x1="289.18" y1="368.24" x2="289.18" y2="370.84" stroke="#333" stroke-width="0.8"/>
<line x1="292.60" y1="368.28" x2="292.60" y2="370.88" stroke="#333" stroke-width="0.8"/>
<line x1="296.61" y1="368.33" x2="296.61" y2="370.93" stroke="#333" stroke-width="0.8"/>
<line x1="300.67" y1="368.38" x2="300.67" y2="370.98" stroke="#333" stroke-width="0.8"/>
<line x1="303.34" y1="368.42" x2="303.34" y2="371.02" stroke="#333" stroke-width="0.8"/>
<line x1="305.87" y1="368.45" x2="305.87" y2="371.05" stroke="#333" stroke-width="0.8"/>
<line x1="310.46" y1="368.50" x2="310.46" y2="371.10" stroke="#333" stroke-width="0.8"/>
<line x1="313.61" y1="368.52" x2="313.61" y2="371.12" stroke="#333" stroke-width="0.8"/>
<line x1="316.70" y1="368.54" x2="316.70" y2="371.14" stroke="#333" stroke-width="0.8"/>
<line x1="321.69" y1="368.56" x2="321.69" y2="371.16" stroke="#333" stroke-width="0.8"/>
<line x1="325.36" y1="368.58" x2="325.36" y2="371.18" stroke="#333" stroke-width="0.8"/>
<line x1="329.96" y1="368.61" x2="329.96" y2="371.21" stroke="#333" stroke-width="0.8"/>
<line x1="333.65" y1="368.63" x2="333.65" y2="371.23" stroke="#333" stroke-width="0.8"/>
<line x1="337.74" y1="368.65" x2="337.74" y2="371.25" stroke="#333" stroke-width="0.8"/>
<line x1="340.62" y1="368.67" x2="340.62" y2="371.27" stroke="#333" stroke-width="0.8"/>
<line x1="344.71" y1="368.69" x2="344.71" y2="371.29" stroke="#333" stroke-width="0.8"/>
<line x1="283.22" y1="359.32" x2="283.22" y2="361.32" stroke="#555" stroke-width="0.7"/>
<line x1="287.79" y1="359.46" x2="287.79" y2="361.46" stroke="#555" stroke-width="0.7"/>
<line x1="293.01" y1="360.02" x2="293.01" y2="362.02" stroke="#555" stroke-width="0.7"/>
<line x1="298.03" y1="361.60" x2="298.03" y2="363.60" stroke="#555" stroke-width="0.7"/>
<line x1="301.22" y1="361.60" x2="301.22" y2="363.60" stroke="#555" stroke-width="0.7"/>
<line x1="306.49" y1="361.60" x2="306.49" y2="363.60" stroke="#555" stroke-width="0.7"/>
<line x1="311.27" y1="361.60" x2="311.27" y2="363.60" stroke="#555" stroke-width="0.7"/>
<line x1="315.17" y1="361.60" x2="315.17" y2="363.60" stroke="#555" stroke-width="0.7"/>
<line x1="318.26" y1="361.60" x2="318.26" y2="363.60" stroke="#555" stroke-width="0.7"/>
<line x1="323.86" y1="361.60" x2="323.86" y2="363.60" stroke="#555" stroke-width="0.7"/>
<line x1="328.28" y1="361.60" x2="328.28" y2="363.60" stroke="#555" stroke-width="0.7"/>
<line x1="333.44" y1="361.60" x2="333.44" y2="363.60" stroke="#555" stroke-width="0.7"/>
<line x1="339.07" y1="361.60" x2="339.07" y2="363.60" stroke="#555" stroke-width="0.7"/>
<line x1="344.21" y1="361.60" x2="344.21" y2="363.60" stroke="#555" stroke-width="0.7"/>
<line x1="170.7" y1="295.8" x2="170.7" y2="465.0" stroke="#111" stroke-width="1.2"/>
<line x1="170.1" y1="464.4" x2="355.7" y2="464.4" stroke="#111" stroke-width="1.2"/>
<line x1="167.30" y1="298.70" x2="170.7" y2="298.70" stroke="#111" stroke-width="1"/>
<text x="164.30" y="301.25" font-size="7.2" text-anchor="end" fill="#2a2a2a">1.0</text>
<line x1="167.30" y1="327.82" x2="170.7" y2="327.82" stroke="#111" stroke-width="1"/>
<text x="164.30" y="330.37" font-size="7.2" text-anchor="end" fill="#2a2a2a">0.8</text>
<line x1="167.30" y1="356.94" x2="170.7" y2="356.94" stroke="#111" stroke-width="1"/>
<text x="164.30" y="359.49" font-size="7.2" text-anchor="end" fill="#2a2a2a">0.6</text>
<line x1="167.30" y1="386.06" x2="170.7" y2="386.06" stroke="#111" stroke-width="1"/>
<text x="164.30" y="388.61" font-size="7.2" text-anchor="end" fill="#2a2a2a">0.4</text>
<line x1="167.30" y1="415.18" x2="170.7" y2="415.18" stroke="#111" stroke-width="1"/>
<text x="164.30" y="417.73" font-size="7.2" text-anchor="end" fill="#2a2a2a">0.2</text>
<line x1="167.30" y1="444.30" x2="170.7" y2="444.30" stroke="#111" stroke-width="1"/>
<text x="164.30" y="446.85" font-size="7.2" text-anchor="end" fill="#2a2a2a">0.0</text>
<line x1="179.80" y1="464.4" x2="179.80" y2="468.20" stroke="#111" stroke-width="0.9"/>
<text x="179.80" y="476.90" font-size="7.0" text-anchor="middle" fill="#2a2a2a">0</text>
<line x1="196.87" y1="464.4" x2="196.87" y2="468.20" stroke="#111" stroke-width="0.9"/>
<text x="196.87" y="476.90" font-size="7.0" text-anchor="middle" fill="#2a2a2a">6</text>
<line x1="213.94" y1="464.4" x2="213.94" y2="468.20" stroke="#111" stroke-width="0.9"/>
<text x="213.94" y="476.90" font-size="7.0" text-anchor="middle" fill="#2a2a2a">12</text>
<line x1="231.01" y1="464.4" x2="231.01" y2="468.20" stroke="#111" stroke-width="0.9"/>
<text x="231.01" y="476.90" font-size="7.0" text-anchor="middle" fill="#2a2a2a">18</text>
<line x1="248.08" y1="464.4" x2="248.08" y2="468.20" stroke="#111" stroke-width="0.9"/>
<text x="248.08" y="476.90" font-size="7.0" text-anchor="middle" fill="#2a2a2a">24</text>
<line x1="265.15" y1="464.4" x2="265.15" y2="468.20" stroke="#111" stroke-width="0.9"/>
<text x="265.15" y="476.90" font-size="7.0" text-anchor="middle" fill="#2a2a2a">30</text>
<line x1="282.22" y1="464.4" x2="282.22" y2="468.20" stroke="#111" stroke-width="0.9"/>
<text x="282.22" y="476.90" font-size="7.0" text-anchor="middle" fill="#2a2a2a">36</text>
<line x1="299.29" y1="464.4" x2="299.29" y2="468.20" stroke="#111" stroke-width="0.9"/>
<text x="299.29" y="476.90" font-size="7.0" text-anchor="middle" fill="#2a2a2a">42</text>
<line x1="316.36" y1="464.4" x2="316.36" y2="468.20" stroke="#111" stroke-width="0.9"/>
<text x="316.36" y="476.90" font-size="7.0" text-anchor="middle" fill="#2a2a2a">48</text>
<line x1="333.43" y1="464.4" x2="333.43" y2="468.20" stroke="#111" stroke-width="0.9"/>
<text x="333.43" y="476.90" font-size="7.0" text-anchor="middle" fill="#2a2a2a">54</text>
<line x1="350.50" y1="464.4" x2="350.50" y2="468.20" stroke="#111" stroke-width="0.9"/>
<text x="350.50" y="476.90" font-size="7.0" text-anchor="middle" fill="#2a2a2a">60</text>
<text x="242.55" y="489.20" font-size="9.2" textLength="41.80" lengthAdjust="spacingAndGlyphs" fill="#2a2a2a" style="stroke-width:0.2px">EFS (months)</text>
<text x="-30.5" y="0" font-size="9.4" textLength="61" lengthAdjust="spacingAndGlyphs" fill="#2a2a2a" style="stroke-width:0.1px" transform="translate(149.50,380.00) rotate(-90)">Survival probability</text>
<text x="126.00" y="454.90" font-size="5.6" textLength="37.70" lengthAdjust="spacingAndGlyphs" fill="#2a2a2a">Obinutuzumab</text>
<text x="139.00" y="461.60" font-size="5.6" textLength="24.70" lengthAdjust="spacingAndGlyphs" fill="#2a2a2a">Rituximab</text>
<text x="175.05" y="454.90" font-size="6.4" textLength="9.51" lengthAdjust="spacingAndGlyphs" fill="#2a2a2a">296</text>
<text x="175.05" y="461.60" font-size="6.4" textLength="9.51" lengthAdjust="spacingAndGlyphs" fill="#2a2a2a">298</text>
<text x="192.12" y="454.90" font-size="6.4" textLength="9.51" lengthAdjust="spacingAndGlyphs" fill="#2a2a2a">201</text>
<text x="192.12" y="461.60" font-size="6.4" textLength="9.51" lengthAdjust="spacingAndGlyphs" fill="#2a2a2a">174</text>
<text x="209.19" y="454.90" font-size="6.4" textLength="9.51" lengthAdjust="spacingAndGlyphs" fill="#2a2a2a">188</text>
<text x="209.19" y="461.60" font-size="6.4" textLength="9.51" lengthAdjust="spacingAndGlyphs" fill="#2a2a2a">165</text>
<text x="226.26" y="454.90" font-size="6.4" textLength="9.51" lengthAdjust="spacingAndGlyphs" fill="#2a2a2a">181</text>
<text x="226.26" y="461.60" font-size="6.4" textLength="9.51" lengthAdjust="spacingAndGlyphs" fill="#2a2a2a">162</text>
<text x="243.33" y="454.90" font-size="6.4" textLength="9.51" lengthAdjust="spacingAndGlyphs" fill="#2a2a2a">172</text>
<text x="243.33" y="461.60" font-size="6.4" textLength="9.51" lengthAdjust="spacingAndGlyphs" fill="#2a2a2a">160</text>
<text x="260.39" y="454.90" font-size="6.4" textLength="9.51" lengthAdjust="spacingAndGlyphs" fill="#2a2a2a">151</text>
<text x="260.39" y="461.60" font-size="6.4" textLength="9.51" lengthAdjust="spacingAndGlyphs" fill="#2a2a2a">131</text>
<text x="277.47" y="454.90" font-size="6.4" textLength="9.51" lengthAdjust="spacingAndGlyphs" fill="#2a2a2a">105</text>
<text x="279.05" y="461.60" font-size="6.4" textLength="6.34" lengthAdjust="spacingAndGlyphs" fill="#2a2a2a">91</text>
<text x="296.12" y="454.90" font-size="6.4" textLength="6.34" lengthAdjust="spacingAndGlyphs" fill="#2a2a2a">62</text>
<text x="296.12" y="461.60" font-size="6.4" textLength="6.34" lengthAdjust="spacingAndGlyphs" fill="#2a2a2a">54</text>
<text x="313.19" y="454.90" font-size="6.4" textLength="6.34" lengthAdjust="spacingAndGlyphs" fill="#2a2a2a">34</text>
<text x="313.19" y="461.60" font-size="6.4" textLength="6.34" lengthAdjust="spacingAndGlyphs" fill="#2a2a2a">28</text>
<text x="331.85" y="454.90" font-size="6.4" textLength="3.17" lengthAdjust="spacingAndGlyphs" fill="#2a2a2a">8</text>
<text x="330.26" y="461.60" font-size="6.4" textLength="6.34" lengthAdjust="spacingAndGlyphs" fill="#2a2a2a">11</text>
<text x="348.92" y="454.90" font-size="6.4" textLength="3.17" lengthAdjust="spacingAndGlyphs" fill="#2a2a2a">0</text>
<text x="348.92" y="461.60" font-size="6.4" textLength="3.17" lengthAdjust="spacingAndGlyphs" fill="#2a2a2a">0</text>
<rect x="0.6" y="0.6" width="518.8" height="497.8" fill="none" stroke="#000" stroke-width="1.3"/>
</svg>
</body></html>
